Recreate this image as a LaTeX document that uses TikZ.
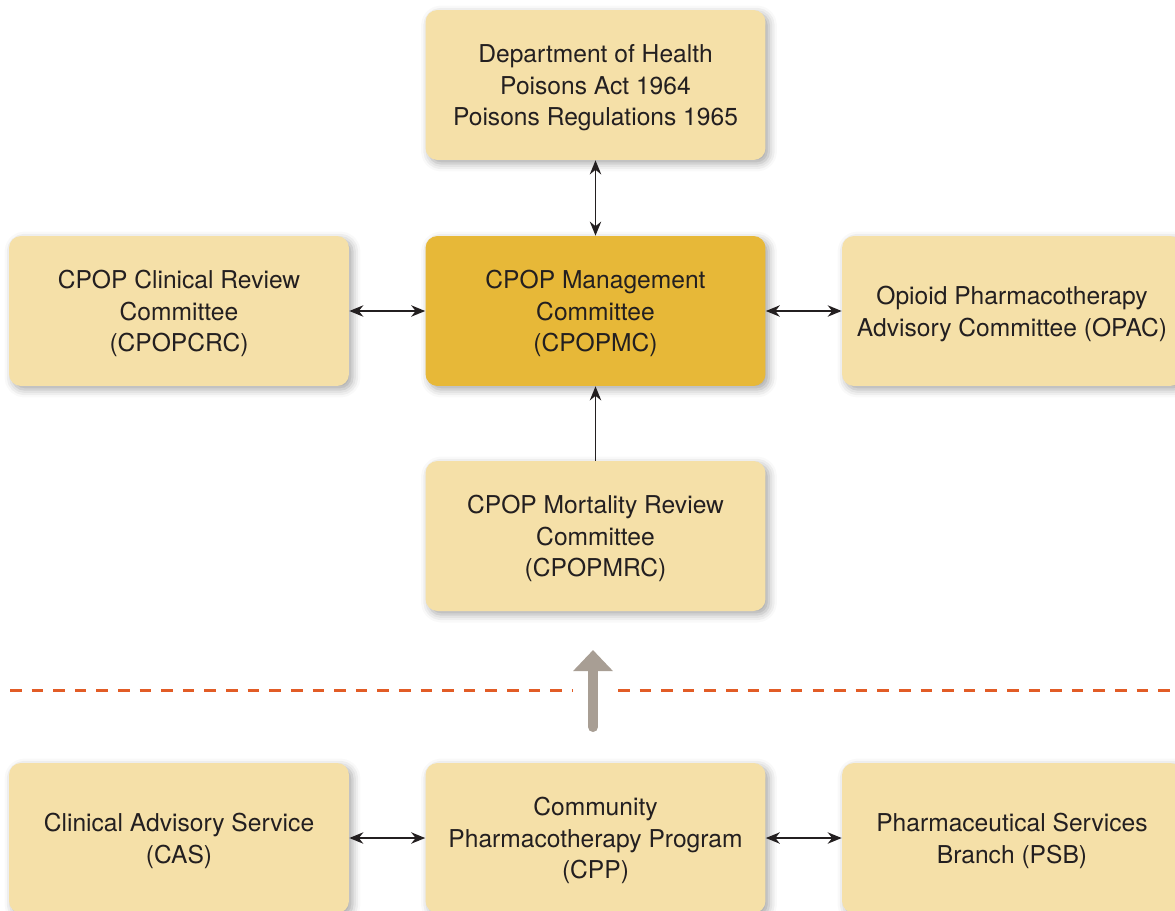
\documentclass[tikz,border=0pt]{standalone}
\usepackage{fontspec}
\setmainfont{TeX Gyre Heros}
\usetikzlibrary{arrows.meta,shadows.blur}
\definecolor{boxlight}{RGB}{245,224,168}
\definecolor{boxgold}{RGB}{231,184,56}
\definecolor{textdark}{RGB}{35,31,32}
\definecolor{dashorange}{RGB}{226,92,38}
\definecolor{arrowgrey}{RGB}{168,158,148}
\tikzset{
	unit/.style={rectangle, rounded corners=0.24cm, fill=boxlight, minimum width=6.8cm, minimum height=3cm,
		align=center, text=textdark, font=\fontsize{14}{18}\selectfont, text depth=-1.3pt,
		blur shadow={shadow xshift=0.07cm, shadow yshift=-0.07cm, shadow blur radius=0.16cm, shadow opacity=35}},
	link/.style={draw=textdark, line width=0.85pt, {Stealth[length=8pt,width=6.5pt]}-{Stealth[length=8pt,width=6.5pt]}},
}
\begin{document}
\begin{tikzpicture}[x=0.02cm, y=-0.02cm, line join=round]
	\useasboundingbox (0,0) rectangle (1175,910);
	\node[unit] (doh) at (595.5,85) {Department of Health\\Poisons Act 1964\\Poisons Regulations 1965};
	\node[unit, fill=boxgold] (pmc) at (595.5,311) {CPOP Management\\Committee\\(CPOPMC)};
	\node[unit] (crc) at (179,311) {CPOP Clinical Review\\Committee\\(CPOPCRC)};
	\node[unit] (opac) at (1012,311) {Opioid Pharmacotherapy\\Advisory Committee (OPAC)};
	\node[unit] (mrc) at (595.5,536) {CPOP Mortality Review\\Committee\\(CPOPMRC)};
	\node[unit] (cas) at (179,838) {Clinical Advisory Service\\(CAS)};
	\node[unit] (cpp) at (595.5,838) {Community\\Pharmacotherapy Program\\(CPP)};
	\node[unit] (psb) at (1012,838) {Pharmaceutical Services\\Branch (PSB)};
	\foreach \a/\b in {doh/pmc,crc/pmc,pmc/opac,cas/cpp,cpp/psb}{
		\draw[link] (\a) -- (\b);
	}
	\draw[link, {Stealth[length=8pt,width=6.5pt]}-] (pmc) -- (mrc);
	\path
	(10,690) coordinate (L1) (573,690) coordinate (L2)
	(618,690) coordinate (R1) (1175,690) coordinate (R2)
	(593,727) coordinate (up0) (593,650) coordinate (up1)
	;
	\draw[dashorange, line width=1.7pt, dash pattern=on 6.6pt off 5.7pt] (L1)--(L2) (R1)--(R2);
	\draw[arrowgrey, line width=5.7pt, line cap=round, -{Triangle[length=12pt,width=22pt]}] (up0)--(up1);
\end{tikzpicture}
\end{document}
